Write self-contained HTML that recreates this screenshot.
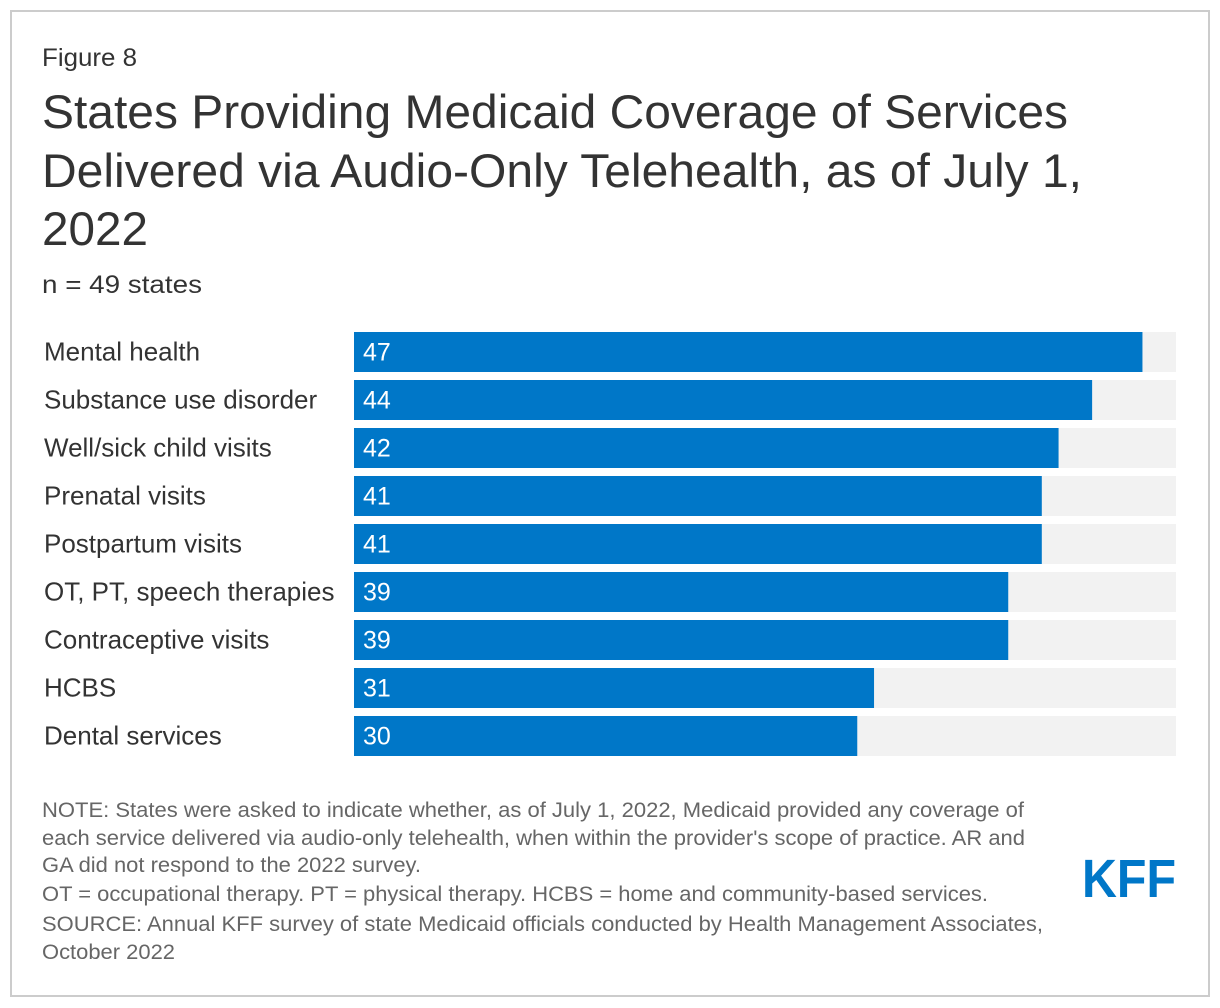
<!DOCTYPE html>
<html><head><meta charset="utf-8"><style>
html,body{margin:0;padding:0;background:#fff;}
svg{display:block;font-family:"Liberation Sans",Arial,sans-serif;}
</style></head><body>
<svg id="chart" width="1220" height="1008" viewBox="0 0 1220 1008">
<rect x="11" y="11" width="1198" height="985" fill="#fff" stroke="#cccccc" stroke-width="2"/>
<text x="42" y="66" font-size="25" fill="#333" textLength="95" lengthAdjust="spacingAndGlyphs">Figure 8</text>
<g font-size="47" fill="#333">
<text x="42" y="128" textLength="1026" lengthAdjust="spacingAndGlyphs">States Providing Medicaid Coverage of Services</text>
<text x="42" y="187" textLength="1040" lengthAdjust="spacingAndGlyphs">Delivered via Audio-Only Telehealth, as of July 1,</text>
<text x="42" y="245" textLength="106" lengthAdjust="spacingAndGlyphs">2022</text>
</g>
<text x="42" y="293" font-size="25" fill="#333" textLength="160" lengthAdjust="spacingAndGlyphs">n = 49 states</text>
<g id="bars"></g>
<g font-size="21" fill="#666">
<text x="42" y="817" textLength="982" lengthAdjust="spacingAndGlyphs">NOTE: States were asked to indicate whether, as of July 1, 2022, Medicaid provided any coverage of</text>
<text x="42" y="845" textLength="983" lengthAdjust="spacingAndGlyphs">each service delivered via audio-only telehealth, when within the provider's scope of practice. AR and</text>
<text x="42" y="872" textLength="379" lengthAdjust="spacingAndGlyphs">GA did not respond to the 2022 survey.</text>
<text x="42" y="901" textLength="946" lengthAdjust="spacingAndGlyphs">OT = occupational therapy. PT = physical therapy. HCBS = home and community-based services.</text>
<text x="42" y="931" textLength="1001" lengthAdjust="spacingAndGlyphs">SOURCE: Annual KFF survey of state Medicaid officials conducted by Health Management Associates,</text>
<text x="42" y="959" textLength="133" lengthAdjust="spacingAndGlyphs">October 2022</text>
</g>
<text x="1082" y="897" font-size="54" font-weight="bold" fill="#0077c8" textLength="94" lengthAdjust="spacingAndGlyphs">KFF</text>
</svg>
<script>
const categories = ["Mental health","Substance use disorder","Well/sick child visits","Prenatal visits","Postpartum visits","OT, PT, speech therapies","Contraceptive visits","HCBS","Dental services"];
const values = [47,44,42,41,41,39,39,31,30];
const maxValue = 49;
const NS = "http://www.w3.org/2000/svg";
const g = document.getElementById('bars');
const x0 = 354, plotW = 822, top0 = 332, step = 48, barH = 40;
const xScale = v => v / maxValue * plotW;
const yPos = i => top0 + i * step;
categories.forEach((c, i) => {
  const y = yPos(i);
  const bg = document.createElementNS(NS, 'rect');
  bg.setAttribute('x', x0); bg.setAttribute('y', y); bg.setAttribute('width', plotW); bg.setAttribute('height', barH); bg.setAttribute('fill', '#f2f2f2');
  
  
  g.appendChild(bg);
  const r = document.createElementNS(NS, 'rect');
  r.setAttribute('x', x0); r.setAttribute('y', y); r.setAttribute('width', xScale(values[i])); r.setAttribute('height', barH); r.setAttribute('fill', '#0077c8');
  
  
  g.appendChild(r);
  const lab = document.createElementNS(NS, 'text');
  lab.setAttribute('x', 44); lab.setAttribute('y', y + barH/2 + 8.5); lab.setAttribute('font-size', '26'); lab.setAttribute('fill', '#333');
  lab.textContent = c;
  
  
  g.appendChild(lab);
  const v = document.createElementNS(NS, 'text');
  v.setAttribute('x', x0 + 9); v.setAttribute('y', y + barH/2 + 8.5); v.setAttribute('font-size', '25'); v.setAttribute('fill', '#fff');
  v.textContent = values[i];
  
  
  g.appendChild(v);
});
</script>
</body></html>
